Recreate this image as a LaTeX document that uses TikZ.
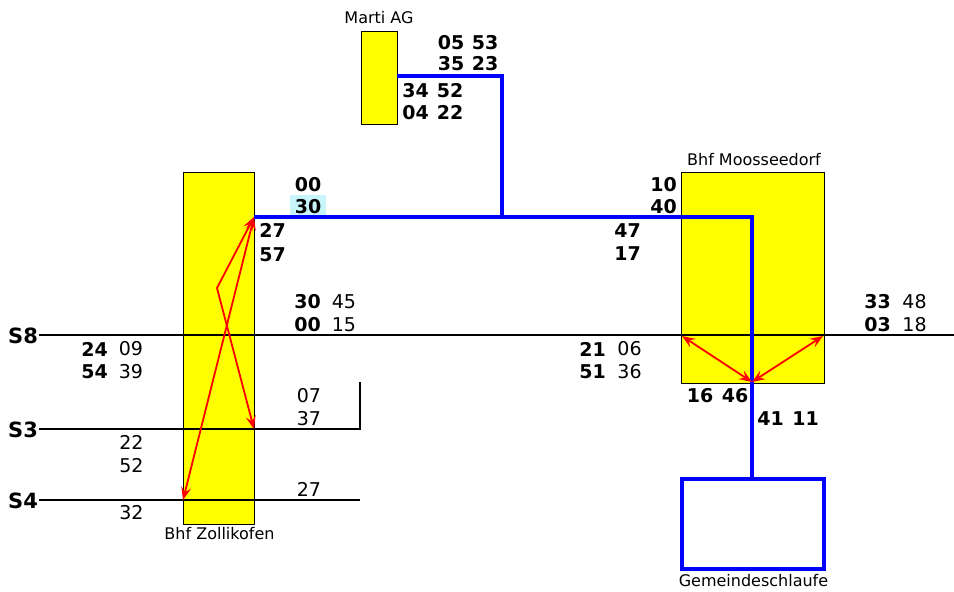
\documentclass[tikz,border=0pt]{standalone}
\usepackage{fontspec}
\setmainfont{DejaVu Sans}
\usetikzlibrary{arrows.meta}
\definecolor{boxyellow}{RGB}{255,255,0}
\definecolor{lineblue}{RGB}{0,0,255}
\definecolor{arrred}{RGB}{255,0,0}
\definecolor{hlcyan}{RGB}{200,245,250}
\tikzset{
  station/.style={draw=black, line width=1pt, fill=boxyellow, inner sep=0pt, anchor=north west},
  loopbox/.style={draw=lineblue, line width=4pt, inner sep=0pt, anchor=north west},
  num/.style={inner sep=0pt, font=\fontsize{19}{20}\selectfont},
  bnum/.style={inner sep=0pt, font=\fontsize{19}{20}\selectfont\bfseries},
  lbl/.style={inner sep=0pt, font=\fontsize{16}{18}\selectfont},
  slbl/.style={inner sep=0pt, font=\fontsize{21}{22}\selectfont\bfseries},
  track/.style={draw=black, line width=1.2pt},
  bus/.style={draw=lineblue, line width=4pt, line join=miter},
  walk/.style={draw=arrred, line width=1.8pt, {Stealth[length=13pt,width=10pt,inset=5pt]}-{Stealth[length=13pt,width=10pt,inset=5pt]}},
}
\begin{document}
\begin{tikzpicture}[x=1pt,y=-1pt]
\useasboundingbox (0,0) rectangle (954,592);

% stations
\node[station, minimum width=36, minimum height=93] (marti) at (361,31) {};
\node[station, minimum width=71, minimum height=352] (zoll) at (183,172) {};
\node[station, minimum width=143, minimum height=211] (moos) at (681,172) {};
\node[loopbox, minimum width=142, minimum height=90] (gem) at (680,477) {};

% station labels
\node[lbl] (martilbl) at (379,18) {Marti AG};
\node[lbl] (zolllbl) at (219.5,534) {Bhf Zollikofen};
\node[lbl] (mooslbl) at (754,159.5) {Bhf Moosseedorf};
\node[lbl] (gemlbl) at (753.5,581) {Gemeindeschlaufe};

% tracks
\coordinate (s8w) at (39,335);
\coordinate (s8e) at (954,335);
\coordinate (s3w) at (39,429);
\coordinate (s3e) at (360,429);
\coordinate (s3t) at (360,382);
\coordinate (s4w) at (39,500);
\coordinate (s4e) at (360,500);
\draw[track] (s8w) -- (s8e);
\draw[track] (s3w) -- (s3e) -- (s3t);
\draw[track] (s4w) -- (s4e);
\node[slbl] (s8lbl) at (23,335.5) {S8};
\node[slbl] (s3lbl) at (23,429.5) {S3};
\node[slbl] (s4lbl) at (23,500.5) {S4};

% bus line
\coordinate (mj) at (397,76);
\coordinate (mc) at (502,76);
\coordinate (jn) at (502,217);
\coordinate (zj) at (254,217);
\coordinate (mo) at (752,217);
\coordinate (gt) at (752,477);
\draw[bus] (mj) -- (mc) -- (jn);
\draw[bus] (zj) -- (mo) -- (gt);

% walking connections
\coordinate (ztop) at (254,217);
\coordinate (zkink) at (217,288);
\coordinate (zs3) at (254,429);
\coordinate (zs4) at (183,500);
\draw[walk] (zs4) -- (ztop);
\draw[walk] (ztop) -- (zkink) -- (zs3);
\coordinate (mw) at (682,336);
\coordinate (me) at (823,336);
\coordinate (mb) at (752,382);
\draw[walk] (mw) -- (mb);
\draw[walk] (me) -- (mb);

% Marti AG times
\node[bnum] (t1) at (451,43) {05};
\node[bnum] (t2) at (485,43) {53};
\node[bnum] (t3) at (451,63.5) {35};
\node[bnum] (t4) at (485,63.5) {23};
\node[bnum] (t5) at (415.5,90.5) {34};
\node[bnum] (t6) at (450,90.5) {52};
\node[bnum] (t7) at (415.5,112.5) {04};
\node[bnum] (t8) at (450,112.5) {22};

% Zollikofen bus times
\node[bnum] (z1) at (308,184.5) {00};
\node[fill=hlcyan, inner sep=0pt, minimum width=36, minimum height=20] (hl) at (308,205) {};
\node[bnum] (z2) at (308,206.5) {30};
\node[bnum] (z3) at (272.5,230.5) {27};
\node[bnum] (z4) at (272.5,254.5) {57};

% Zollikofen train times
\node[bnum] (a1) at (307.5,302) {30};
\node[num] (a2) at (344,302) {45};
\node[bnum] (a3) at (307.5,324.5) {00};
\node[num] (a4) at (344,324.5) {15};
\node[bnum] (b1) at (94.5,349) {24};
\node[num] (b2) at (131,349) {09};
\node[bnum] (b3) at (94.5,371.5) {54};
\node[num] (b4) at (131,371.5) {39};
\node[num] (c1) at (309,395.5) {07};
\node[num] (c2) at (309,419) {37};
\node[num] (c3) at (131.5,442.5) {22};
\node[num] (c4) at (131.5,465.5) {52};
\node[num] (d1) at (309,489.5) {27};
\node[num] (d2) at (131.5,512.5) {32};

% Moosseedorf bus times
\node[bnum] (m1) at (663.5,185) {10};
\node[bnum] (m2) at (663.5,207) {40};
\node[bnum] (m3) at (627.5,231) {47};
\node[bnum] (m4) at (627.5,254) {17};

% Moosseedorf train times
\node[bnum] (e1) at (592.5,349) {21};
\node[num] (e2) at (629.5,349) {06};
\node[bnum] (e3) at (592.5,371.5) {51};
\node[num] (e4) at (629.5,371.5) {36};
\node[bnum] (f1) at (877.5,302) {33};
\node[num] (f2) at (914.5,302) {48};
\node[bnum] (f3) at (877.5,324.5) {03};
\node[num] (f4) at (914.5,324.5) {18};

% Gemeindeschlaufe times
\node[bnum] (g1) at (700,396) {16};
\node[bnum] (g2) at (735,396) {46};
\node[bnum] (g3) at (770.5,419) {41};
\node[bnum] (g4) at (805.5,419) {11};
\end{tikzpicture}
\end{document}
